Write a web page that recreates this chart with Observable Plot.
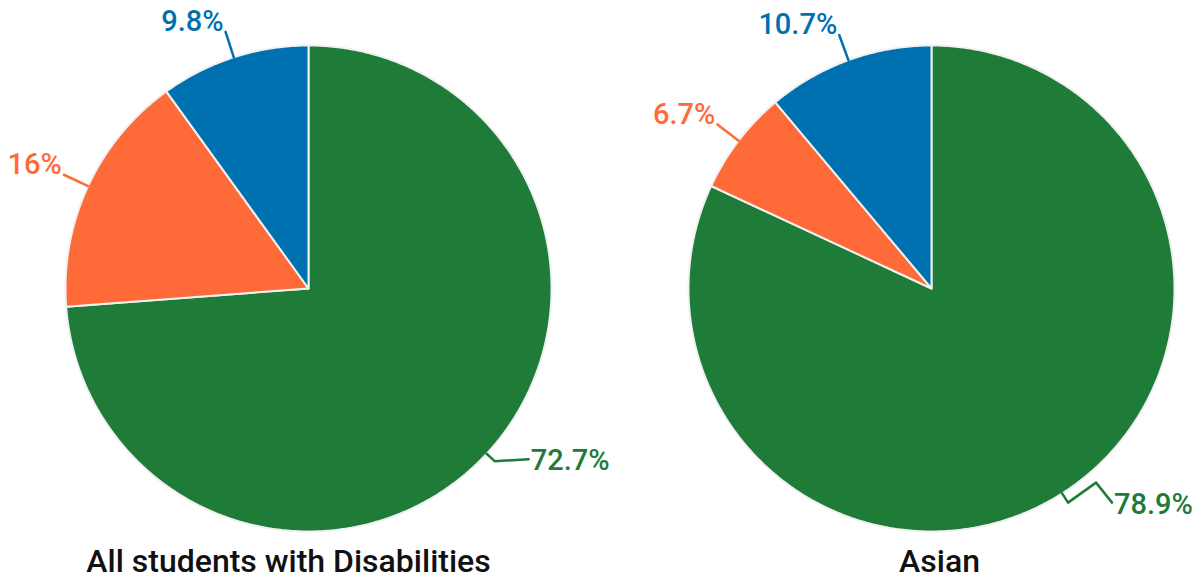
<!DOCTYPE html>
<html><head><meta charset="utf-8">
<script src="https://cdn.jsdelivr.net/npm/d3@7"></script>
<script src="https://cdn.jsdelivr.net/npm/@observablehq/plot@0.6"></script>
<style>body{margin:0;background:#fff;font-family:Roboto,sans-serif}</style>
</head><body><div id="chart"></div>
<script>
// ---- data ----
const groups = ["All students with Disabilities", "Asian"];
const categories = ["Category 1", "Category 2", "Category 3"];
const colors = ["#1e7b38", "#fe6b39", "#0071b0"];
const valuesAll = [72.7, 16, 9.8];
const valuesAsian = [78.9, 6.7, 10.7];
const labelsAll = ["72.7%", "16%", "9.8%"];
const labelsAsian = ["78.9%", "6.7%", "10.7%"];

// ---- layout (pixels) ----
const R = 243;
const titleShift = [-20, 8];
const bends = {}; // extra leader segments for the large slice, screen-px offsets from the elbow
bends[groups[0]] = [[34, -2]];
bends[groups[1]] = [[28, -20], [44, 0]];

const series = [[groups[0], valuesAll, labelsAll], [groups[1], valuesAsian, labelsAsian]];
const slices = [], leaders = [], bigLabels = [], smallLabels = [];
for (const [g, vals, labs] of series) {
  const data = categories.map((c, i) => ({c, v: vals[i], lab: labs[i]}));
  const arcs = d3.pie().sort(null).value(d => d.v)(data);
  arcs.forEach((a, i) => {
    const c = a.data.c, key = g + "|" + c;
    slices.push({g, key, c, x: 0, y: 0});
    const n = Math.max(2, Math.ceil((a.endAngle - a.startAngle) / 0.01));
    for (let k = 0; k <= n; k++) {
      const t = a.startAngle + (a.endAngle - a.startAngle) * k / n;
      slices.push({g, key, c, x: R * Math.sin(t), y: R * Math.cos(t)});
    }
    slices.push({g, key, c, x: 0, y: 0});
    const m = (a.startAngle + a.endAngle) / 2, s = Math.sin(m), co = Math.cos(m);
    let pts;
    if (i === 0) {
      const e = [1.045 * R * s, 1.045 * R * co];
      pts = [[R * s, R * co], e, ...bends[g].map(([dx, dy]) => [e[0] + dx, e[1] - dy])];
      const last = pts[pts.length - 1];
      bigLabels.push({g, c, x: last[0], y: last[1], lab: a.data.lab});
    } else {
      pts = [[R * s, R * co], [1.11 * R * s, 1.11 * R * co]];
      const last = pts[pts.length - 1];
      smallLabels.push({g, c, x: last[0], y: last[1], lab: a.data.lab});
    }
    pts.forEach(p => leaders.push({g, key, c, x: p[0], y: p[1]}));
  });
}
const titles = groups.map((g, i) => ({g, x: titleShift[i]}));

const chart = Plot.plot({
  width: 1200,
  height: 579,
  marginLeft: 43,
  marginRight: 4,
  marginTop: 0,
  marginBottom: 45,
  style: {fontFamily: "Roboto, sans-serif", background: "white"},
  fx: {domain: groups, paddingInner: 0.1493, paddingOuter: 0, axis: null},
  x: {domain: [-265, 265], axis: null},
  y: {domain: [-246, 288], axis: null},
  color: {domain: categories, range: colors},
  marks: [
    Plot.line(slices, {x: "x", y: "y", z: "key", fx: "g", fill: "c", stroke: "#f0f0f0", strokeWidth: 2, strokeLinejoin: "round"}),
    Plot.line(leaders, {x: "x", y: "y", z: "key", fx: "g", stroke: "c", strokeWidth: 2.5}),
    Plot.text(smallLabels, {x: "x", y: "y", fx: "g", text: "lab", fill: "c", textAnchor: "end", dx: -2, dy: -10, fontSize: 29, fontWeight: 500}),
    Plot.text(bigLabels, {x: "x", y: "y", fx: "g", text: "lab", fill: "c", textAnchor: "start", dx: 2, dy: 2, fontSize: 29, fontWeight: 500}),
    Plot.text(titles, {fx: "g", x: "x", y: () => -273, text: "g", fill: "#111", fontSize: 32, fontWeight: 500})
  ]
});
document.getElementById("chart").appendChild(chart);
</script>
</body></html>
